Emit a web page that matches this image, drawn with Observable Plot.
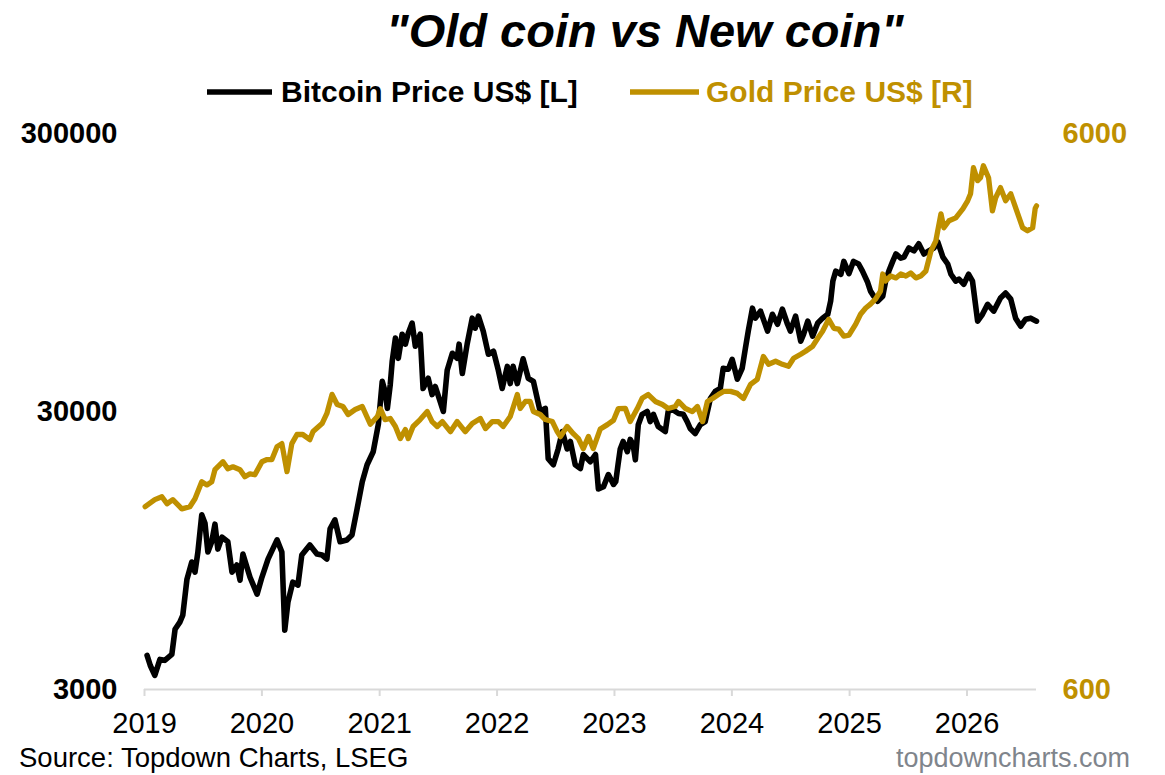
<!DOCTYPE html>
<html><head><meta charset="utf-8">
<script src="https://cdn.jsdelivr.net/npm/d3@7"></script>
<script src="https://cdn.jsdelivr.net/npm/@observablehq/plot@0.6"></script>
<style>
body{margin:0;background:#fff;font-family:"Liberation Sans",Arial,sans-serif;}
#wrap{position:relative;width:1165px;height:775px;overflow:hidden;background:#fff}
#head{position:absolute;left:0;top:0}
#chart{position:absolute;left:0;top:118px}
#foot{position:absolute;left:0;top:740px}
</style></head>
<body><div id="wrap">
<svg id="head" width="1165" height="118" font-family="Liberation Sans, Arial, sans-serif"></svg>
<div id="chart"></div>
<svg id="foot" width="1165" height="35" font-family="Liberation Sans, Arial, sans-serif"></svg>
</div>
<script>
const titleText = "\"Old coin vs New coin\"";
const seriesNames = ["Bitcoin Price US$ [L]", "Gold Price US$ [R]"];
const seriesColors = ["#000000", "#BF9000"];
const sourceText = "Source: Topdown Charts, LSEG";
const brandText = "topdowncharts.com";

const yearTicks = [2019, 2020, 2021, 2022, 2023, 2024, 2025, 2026];
const leftTicks = [3000, 30000, 300000];
const rightTicks = [600, 6000];

const btcDates = ["2019-01-09","2019-01-19","2019-02-02","2019-02-18","2019-03-05","2019-03-27","2019-04-06","2019-04-21","2019-04-30","2019-05-13","2019-05-28","2019-06-07","2019-06-16","2019-06-28","2019-07-08","2019-07-17","2019-07-29","2019-08-08","2019-08-17","2019-08-30","2019-09-17","2019-09-30","2019-10-15","2019-10-25","2019-11-03","2019-11-25","2019-12-17",
"2020-01-01","2020-01-20","2020-02-17","2020-03-03","2020-03-12","2020-03-22","2020-04-06","2020-04-22","2020-05-04","2020-05-29","2020-06-20","2020-07-06","2020-07-21","2020-07-31","2020-08-15","2020-08-31","2020-09-21","2020-10-07","2020-10-23","2020-11-08","2020-11-23","2020-12-12","2020-12-28",
"2021-01-09","2021-01-18","2021-01-25","2021-02-03","2021-02-09","2021-02-19","2021-02-28","2021-03-12","2021-03-22","2021-03-31","2021-04-12","2021-04-22","2021-05-07","2021-05-16","2021-06-01","2021-06-13","2021-06-23","2021-07-08","2021-07-18","2021-07-30","2021-08-15","2021-08-30","2021-09-05","2021-09-15","2021-09-30","2021-10-16","2021-10-25","2021-11-04","2021-11-19","2021-12-05","2021-12-21",
"2022-01-05","2022-01-17","2022-02-02","2022-02-11","2022-02-20","2022-03-05","2022-03-23","2022-04-08","2022-04-24","2022-05-06","2022-05-15","2022-05-31","2022-06-09","2022-06-25","2022-07-10","2022-07-23","2022-08-07","2022-08-17","2022-09-01","2022-09-17","2022-09-26","2022-10-18","2022-11-03","2022-11-12","2022-11-28","2022-12-13","2022-12-29",
"2023-01-05","2023-01-12","2023-01-19","2023-01-28","2023-02-10","2023-02-19","2023-02-28","2023-03-07","2023-03-16","2023-03-28","2023-04-13","2023-04-22","2023-05-02","2023-05-17","2023-06-08","2023-06-17","2023-06-30","2023-07-19","2023-08-03","2023-08-15","2023-08-25","2023-09-09","2023-09-25","2023-10-10","2023-10-26","2023-11-10","2023-11-26","2023-12-05","2023-12-21",
"2024-01-02","2024-01-18","2024-02-02","2024-02-12","2024-02-21","2024-03-05","2024-03-14","2024-03-30","2024-04-21","2024-05-06","2024-05-22","2024-06-06","2024-06-22","2024-07-01","2024-07-17","2024-08-02","2024-08-11","2024-08-24","2024-09-08","2024-09-24","2024-10-09","2024-10-25","2024-11-03","2024-11-10","2024-11-19","2024-12-05","2024-12-14","2024-12-30",
"2025-01-13","2025-01-29","2025-02-10","2025-02-26","2025-03-07","2025-03-17","2025-03-29","2025-04-14","2025-04-23","2025-05-03","2025-05-15","2025-05-25","2025-06-09","2025-06-19","2025-07-04","2025-07-20","2025-08-04","2025-08-20","2025-09-04","2025-09-20","2025-10-02","2025-10-18","2025-11-02","2025-11-12","2025-11-27","2025-12-07","2025-12-22",
"2026-01-06","2026-01-18","2026-02-03","2026-02-18","2026-03-06","2026-03-25","2026-04-15","2026-05-01","2026-05-17","2026-06-01","2026-06-17","2026-07-02","2026-07-18","2026-08-05"];
const btcPrices = [3980,3660,3370,3850,3820,4010,4940,5240,5550,7480,8620,7930,9370,12750,11900,9370,10200,11800,9600,10600,10200,7930,8410,7420,9210,7600,6610,
7600,8830,10360,9370,4900,6190,7300,7120,9140,9930,9220,9140,8840,11350,12230,10200,10350,10790,13400,16760,19300,21500,27000,
38500,35400,30800,37500,45400,55100,46600,56900,52400,57400,62400,51500,56900,36300,39500,34500,36900,32600,30000,42200,48600,46600,52400,41100,52400,65000,59800,66100,58400,48200,49400,
42200,36300,43600,37800,43600,37800,46400,39500,38500,33400,30000,30800,20300,19300,22000,25400,22000,23400,19300,18700,21000,19800,21000,15800,16100,17800,16400,
16800,19300,22000,23400,21500,23800,22800,20100,26900,29300,30000,27600,29300,26500,25400,30000,30500,29500,29300,27600,26000,25000,26900,27600,33400,35400,36300,42900,42600,
46200,39200,42900,50600,58400,70600,65000,68900,58400,67100,61800,70000,61800,58400,66100,53700,56900,63400,56000,62400,65000,67100,74800,88400,96000,93500,104000,94000,
104000,101800,96000,87500,81300,78000,74800,78000,88300,96000,104000,110600,106900,107800,116200,113500,120300,110600,113500,116200,122300,107800,101800,93500,88300,89800,86100,
93500,88300,63400,67100,72900,68900,76800,80000,76100,65000,60800,64400,65000,63400];

const goldDates = ["2019-01-03","2019-02-02","2019-02-24","2019-03-12","2019-03-30","2019-04-27","2019-05-22","2019-06-07","2019-06-28","2019-07-14","2019-07-29","2019-08-08","2019-09-02","2019-09-17","2019-10-03","2019-10-25","2019-11-09","2019-11-25","2019-12-10",
"2020-01-01","2020-01-17","2020-02-01","2020-02-17","2020-03-03","2020-03-19","2020-04-03","2020-04-19","2020-05-07","2020-05-29","2020-06-08","2020-07-06","2020-07-21","2020-08-06","2020-08-22","2020-09-09","2020-09-25","2020-10-17","2020-11-08","2020-12-03","2020-12-25",
"2021-01-03","2021-01-18","2021-02-03","2021-02-19","2021-03-06","2021-03-22","2021-03-31","2021-04-15","2021-05-07","2021-05-29","2021-06-13","2021-06-29","2021-07-15","2021-08-09","2021-08-30","2021-09-24","2021-10-16","2021-11-10","2021-11-26","2021-12-17",
"2022-01-05","2022-01-20","2022-02-11","2022-03-05","2022-03-14","2022-03-30","2022-04-14","2022-04-24","2022-05-15","2022-05-31","2022-06-22","2022-07-07","2022-07-17","2022-08-07","2022-08-26","2022-09-11","2022-09-26","2022-10-12","2022-10-27","2022-11-18","2022-12-10","2022-12-29",
"2023-01-13","2023-02-04","2023-02-19","2023-03-13","2023-03-28","2023-04-16","2023-05-08","2023-05-30","2023-06-17","2023-07-09","2023-07-19","2023-08-10","2023-08-31","2023-09-16","2023-10-02","2023-10-17","2023-11-02","2023-11-20","2023-12-06","2023-12-28",
"2024-01-18","2024-02-06","2024-02-28","2024-03-20","2024-04-08","2024-04-24","2024-05-16","2024-06-06","2024-06-25","2024-07-11","2024-08-02","2024-08-17","2024-09-08","2024-09-24","2024-10-09","2024-10-28","2024-11-13","2024-11-28","2024-12-14","2024-12-30",
"2025-01-20","2025-02-04","2025-02-20","2025-03-07","2025-03-23","2025-04-07","2025-04-14","2025-04-23","2025-05-09","2025-05-25","2025-06-09","2025-06-25","2025-07-10","2025-07-26","2025-08-10","2025-08-26","2025-09-11","2025-09-26","2025-10-12","2025-10-21","2025-11-06","2025-11-27","2025-12-19",
"2026-01-03","2026-01-12","2026-01-21","2026-02-03","2026-02-12","2026-02-21","2026-03-09","2026-03-21","2026-03-31","2026-04-15","2026-05-01","2026-05-17","2026-06-01","2026-06-10","2026-06-23","2026-07-08","2026-07-24","2026-08-01","2026-08-05"];
const goldPrices = [1279,1317,1333,1295,1317,1268,1279,1322,1418,1400,1418,1491,1541,1497,1509,1491,1448,1466,1460,
1541,1555,1555,1640,1661,1479,1661,1725,1725,1689,1746,1805,1882,2037,1953,1937,1874,1913,1937,1800,1858,
1920,1835,1843,1783,1696,1761,1696,1783,1835,1897,1820,1783,1820,1745,1820,1745,1805,1843,1768,1820,
1820,1783,1858,2036,1921,1978,1978,1897,1874,1835,1820,1746,1710,1783,1731,1696,1627,1711,1627,1765,1797,1830,
1920,1921,1820,1921,2004,2035,1978,1953,1921,1937,1978,1921,1897,1937,1820,1978,2002,2035,2062,2062,
2045,2002,2123,2168,2383,2307,2336,2307,2288,2365,2405,2435,2486,2570,2645,2780,2678,2668,2592,2602,
2724,2838,2912,2960,3024,3125,3353,3258,3325,3299,3353,3325,3367,3299,3325,3395,3690,3844,4302,4060,4181,4231,4392,
4541,4675,5207,4936,4996,5250,4996,4355,4598,4795,4541,4675,4412,4266,4060,4010,4060,4400,4447];

// Right axis (gold, one decade) shares the left log scale (two decades)
const toLeft = g => leftTicks[0] * Math.pow(g / rightTicks[0], 2);
const fromLeft = v => rightTicks[0] * Math.sqrt(v / leftTicks[0]);

const btc = btcDates.map((d, i) => ({date: new Date(d), price: btcPrices[i]}));
const gold = goldDates.map((d, i) => ({date: new Date(d), price: goldPrices[i]}));

const FONT = "Liberation Sans, Arial, sans-serif";

// Header: title + legend
const head = d3.select("#head");
head.append("text").attr("x", 645).attr("y", 47).attr("text-anchor", "middle")
  .attr("font-size", 47).attr("font-weight", "bold").attr("font-style", "italic").text(titleText);
const legendX = [[207, 272, 281], [630, 699, 706]];
seriesNames.forEach((n, i) => {
  head.append("line").attr("x1", legendX[i][0]).attr("x2", legendX[i][1]).attr("y1", 92).attr("y2", 92)
    .attr("stroke", seriesColors[i]).attr("stroke-width", 5.5);
  head.append("text").attr("x", legendX[i][2]).attr("y", 102).attr("font-size", 30).attr("font-weight", "bold")
    .attr("fill", seriesColors[i]).text(n);
});

const chart = Plot.plot({
  width: 1165,
  height: 622,
  marginLeft: 144,
  marginRight: 129,
  marginTop: 15,
  marginBottom: 51,
  style: {fontFamily: FONT, background: "#fff", overflow: "visible"},
  x: {type: "utc", domain: [new Date("2019-01-01"), new Date("2026-08-05")], axis: null},
  y: {type: "log", domain: [leftTicks[0], leftTicks[leftTicks.length - 1]], axis: null},
  marks: [
    Plot.ruleY([leftTicks[0]], {stroke: "#d9d9d9", strokeWidth: 2}),
    Plot.axisX(yearTicks.map(y => new Date(Date.UTC(y, 0, 1))), {
      tickFormat: d => String(d.getUTCFullYear()), tickSize: 7, tickPadding: 16, label: null,
      stroke: "#d9d9d9", strokeWidth: 2, fill: "#000", fontSize: 29
    }),
    Plot.axisY(leftTicks, {anchor: "left", tickSize: 0, tickPadding: 27, tickFormat: d => String(d), label: null,
      fill: "#000", fontSize: 29, fontWeight: "bold"}),
    Plot.axisY(rightTicks.map(toLeft), {anchor: "right", tickSize: 0, tickPadding: 26, label: null,
      tickFormat: d => String(Math.round(fromLeft(d))), fill: seriesColors[1], fontSize: 29, fontWeight: "bold"}),
    Plot.line(btc, {x: "date", y: "price", stroke: seriesColors[0], strokeWidth: 5.6, strokeLinejoin: "round"}),
    Plot.line(gold, {x: "date", y: d => toLeft(d.price), stroke: seriesColors[1], strokeWidth: 5.3, strokeLinejoin: "round"})
  ]
});
d3.select(chart).selectAll('g[aria-label="y-axis tick label"]').attr("font-weight", "bold");
document.getElementById("chart").appendChild(chart);

// Footer
const foot = d3.select("#foot");
foot.append("text").attr("x", 19).attr("y", 27).attr("font-size", 27.5).attr("fill", "#000").text(sourceText);
foot.append("text").attr("x", 1130).attr("y", 27).attr("text-anchor", "end").attr("font-size", 27)
  .attr("fill", "#7f858c").text(brandText);
</script>
</body></html>
